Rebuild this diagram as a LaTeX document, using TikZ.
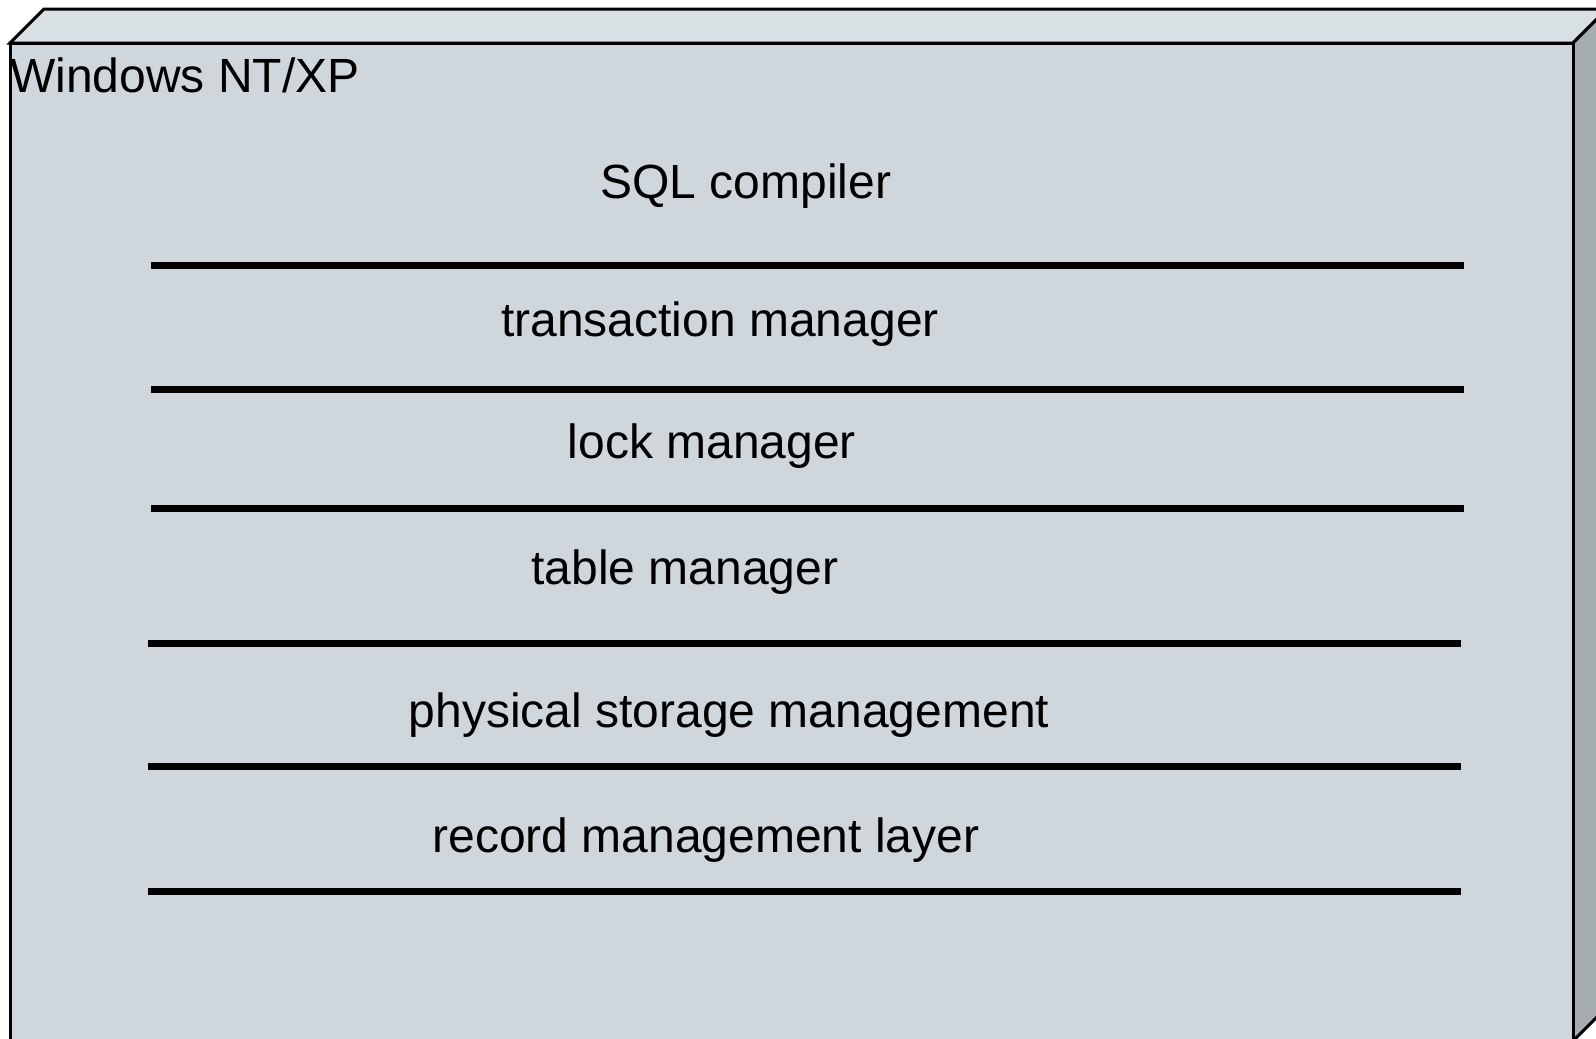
\documentclass[tikz,border=0pt]{standalone}
\usepackage{fontspec}
\setmainfont{Liberation Sans}
\usepackage{xcolor}
\usepackage{tikz}
\definecolor{FrontFace}{HTML}{CFD7DD}
\definecolor{TopFace}{HTML}{D9E0E3}
\definecolor{SideFace}{HTML}{A5ADB0}

\begin{document}
\begin{tikzpicture}[
  x=1pt, y=-1pt,
  face/.style={draw=black,line width=3pt,line join=miter},
  layer/.style={inner sep=0pt,anchor=base,font=\fontsize{48}{57}\selectfont},
  sep/.style={line width=7pt}
]
  \useasboundingbox (0,0) rectangle (1596,1039);
  \clip (0,0) rectangle (1596,1039);

  % node box
  \draw[face,fill=TopFace] (10,43) -- (44,9) -- (1607,9) -- (1573,43) -- cycle;
  \draw[face,fill=SideFace] (1573,43) -- (1607,9) -- (1607,1007) -- (1573,1041) -- cycle;
  \draw[face,fill=FrontFace] (10,43) rectangle (1573,1041);

  \node[layer,anchor=base west] (os) at (10,92) {Windows NT/XP};

  % layers
  \node[layer] (sql) at (746,198) {SQL compiler};
  \node[layer] (trans) at (720,336) {transaction manager};
  \node[layer] (lock) at (712,458) {lock manager};
  \node[layer] (table) at (685,584) {table manager};
  \node[layer] (phys) at (729,727) {physical storage management};
  \node[layer] (rec) at (706,852) {record management layer};

  % separators
  \draw[sep] (151,265) -- (1464,265);
  \draw[sep] (151,389) -- (1464,389);
  \draw[sep] (151,508) -- (1464,508);
  \draw[sep] (148,643) -- (1461,643);
  \draw[sep] (148,766) -- (1461,766);
  \draw[sep] (148,891) -- (1461,891);
\end{tikzpicture}
\end{document}
